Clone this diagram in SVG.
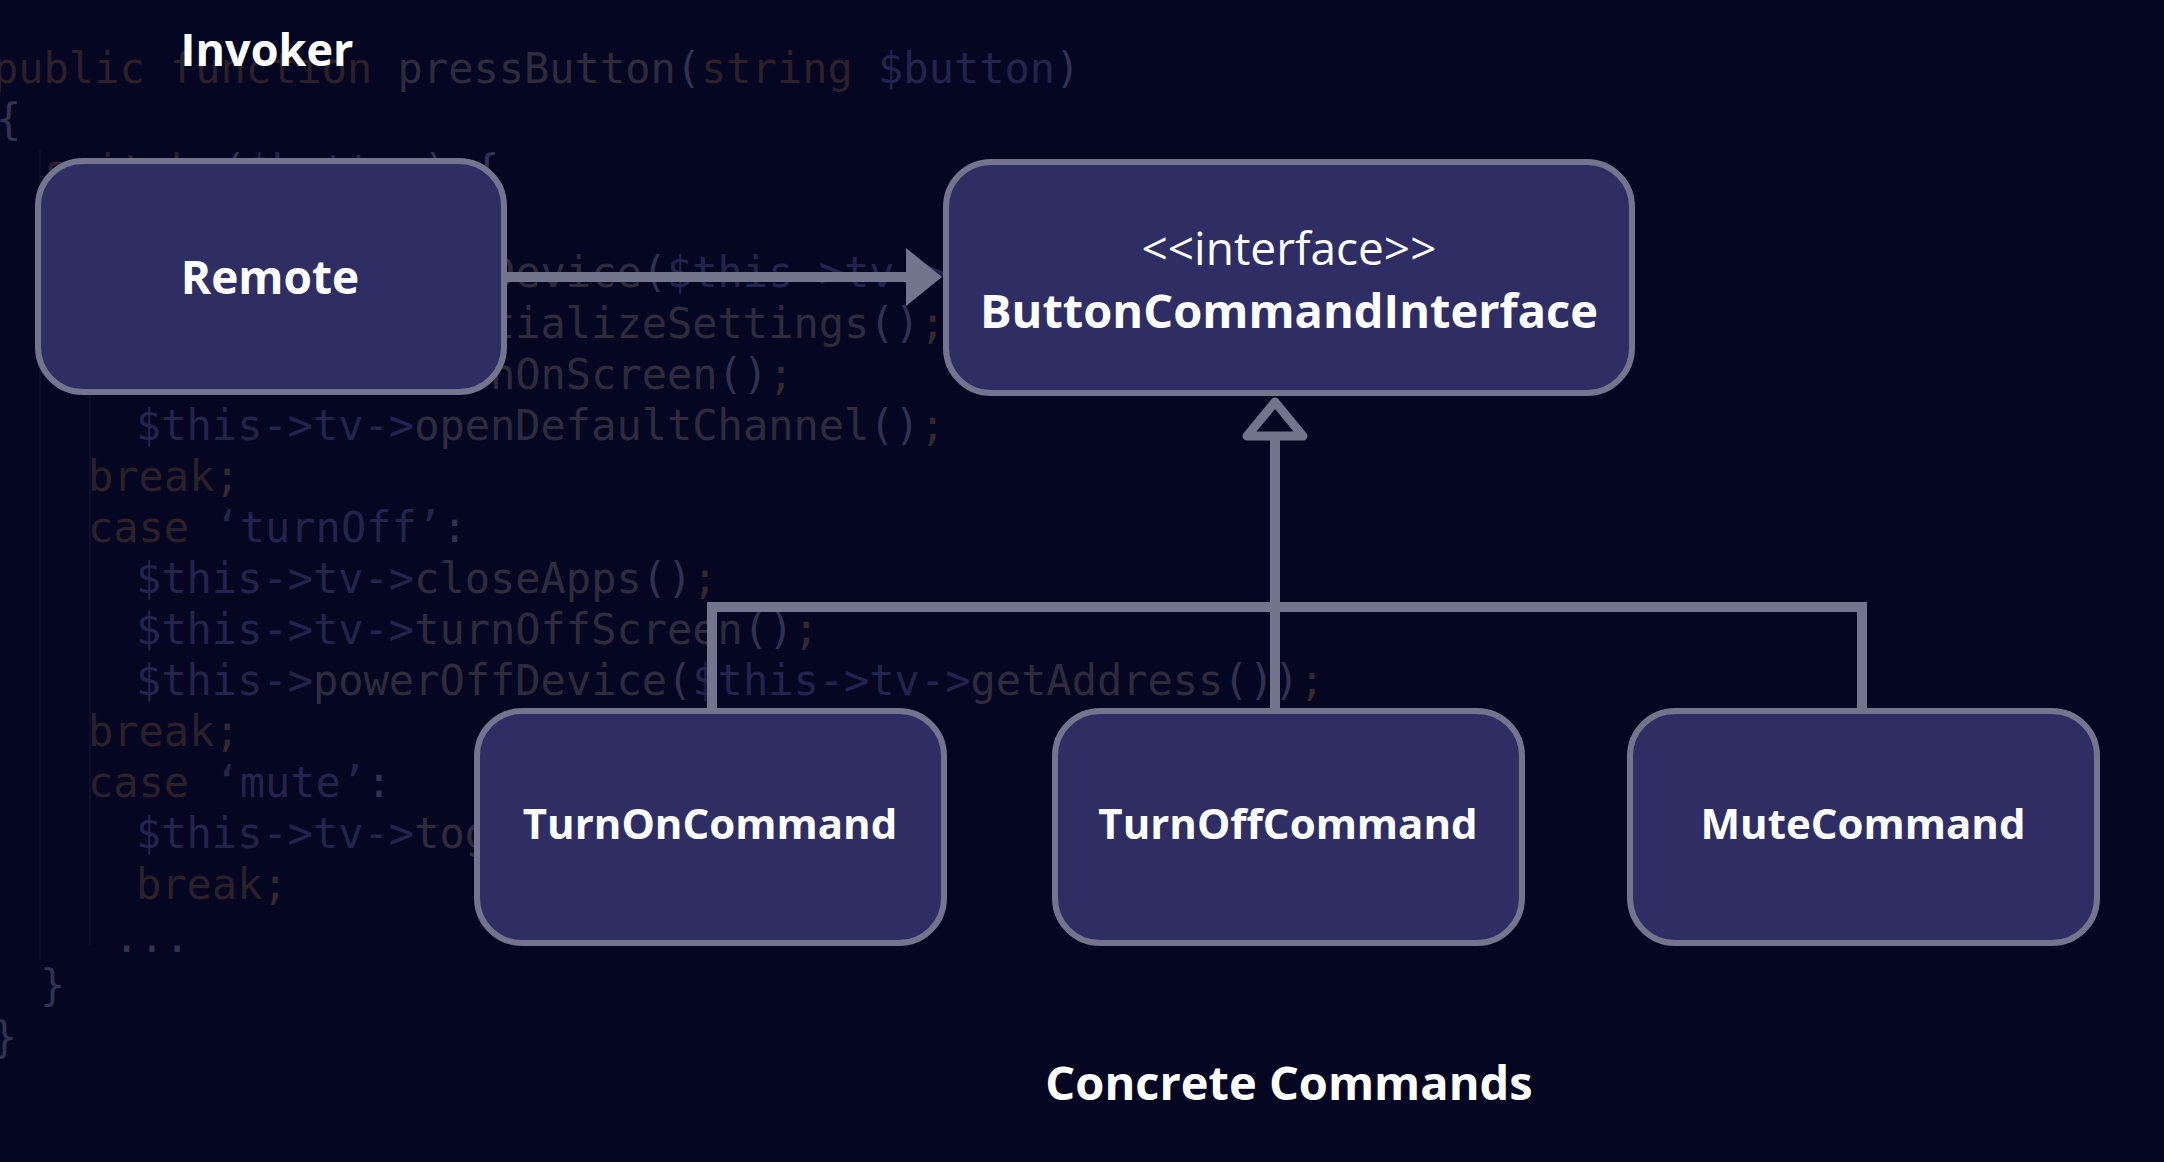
<svg xmlns="http://www.w3.org/2000/svg" width="2164" height="1162" viewBox="0 0 2164 1162">
<style>
.code{font-family:"DejaVu Sans Mono","Liberation Mono",monospace;font-size:42px}
.kw{fill:#2c2029}
.fn{fill:#2e2c3c}
.vr{fill:#23244b}
.op{fill:#30324f}
.pu{fill:#36292b}
.guide{stroke:#0d0e2e;stroke-width:2}
.node{fill:#2e2e64;stroke:#73758e;stroke-width:6}
.lbl{font-family:"Open Sans","Noto Sans","Liberation Sans",sans-serif;font-weight:700;fill:#ffffff;text-anchor:middle}
.reg{font-weight:400}
.conn{fill:none;stroke:#73758e;stroke-width:10}
</style>
<defs>
<marker id="arrow-filled" markerUnits="userSpaceOnUse" viewBox="0 0 36 58" refX="6" refY="29" markerWidth="36" markerHeight="58" orient="auto">
<path d="M0,0 L36,29 L0,58 Z" fill="#73758e"/>
</marker>
</defs>
<rect x="0" y="0" width="2164" height="1162" fill="#050622"/>
<g id="background-code" class="code">
<line class="guide" x1="40" y1="150" x2="40" y2="960"/>
<line class="guide" x1="90" y1="200" x2="90" y2="945"/>
<text x="-7" y="83"><tspan class="kw">public function</tspan> <tspan class="fn">pressButton</tspan><tspan class="op">(</tspan><tspan class="kw">string</tspan> <tspan class="vr">$button</tspan><tspan class="op">)</tspan></text>
<text x="-4" y="134" class="op">{</text>
<text x="44" y="185"><tspan class="kw">switch</tspan> <tspan class="op">(</tspan><tspan class="vr">$button</tspan><tspan class="op">)</tspan> <tspan class="op">{</tspan></text>
<text x="490" y="287"><tspan class="fn">Device</tspan><tspan class="op">(</tspan><tspan class="vr">$this-&gt;tv-&gt;</tspan></text>
<text x="490" y="338"><tspan class="fn">tializeSettings</tspan><tspan class="op">()</tspan><tspan class="pu">;</tspan></text>
<text x="490" y="389"><tspan class="fn">nOnScreen</tspan><tspan class="op">()</tspan><tspan class="pu">;</tspan></text>
<text x="136" y="440"><tspan class="vr">$this-&gt;tv-&gt;</tspan><tspan class="fn">openDefaultChannel</tspan><tspan class="op">()</tspan><tspan class="pu">;</tspan></text>
<text x="88" y="491"><tspan class="kw">break</tspan><tspan class="pu">;</tspan></text>
<text x="88" y="542"><tspan class="kw">case</tspan> <tspan class="vr">‘turnOff’</tspan><tspan class="op">:</tspan></text>
<text x="136" y="593"><tspan class="vr">$this-&gt;tv-&gt;</tspan><tspan class="fn">closeApps</tspan><tspan class="op">()</tspan><tspan class="pu">;</tspan></text>
<text x="136" y="644"><tspan class="vr">$this-&gt;tv-&gt;</tspan><tspan class="fn">turnOffScreen</tspan><tspan class="op">()</tspan><tspan class="pu">;</tspan></text>
<text x="136" y="695"><tspan class="vr">$this-&gt;</tspan><tspan class="fn">powerOffDevice</tspan><tspan class="op">(</tspan><tspan class="vr">$this-&gt;tv-&gt;</tspan><tspan class="fn">getAddress</tspan><tspan class="op">())</tspan><tspan class="pu">;</tspan></text>
<text x="88" y="746"><tspan class="kw">break</tspan><tspan class="pu">;</tspan></text>
<text x="88" y="797"><tspan class="kw">case</tspan> <tspan class="vr">‘mute’</tspan><tspan class="op">:</tspan></text>
<text x="136" y="848"><tspan class="vr">$this-&gt;tv-&gt;</tspan><tspan class="fn">tog</tspan></text>
<text x="136" y="899"><tspan class="kw">break</tspan><tspan class="pu">;</tspan></text>
<text x="114" y="952" class="op">...</text>
<text x="40" y="1000" class="op">}</text>
<text x="-8" y="1052" class="op">}</text>
</g>
<g id="connectors">
<path class="conn" d="M507,277 H912" stroke-width="11" marker-end="url(#arrow-filled)"/>
<path class="conn" d="M1275,712 V437"/>
<path class="conn" d="M712,712 V607 H1862 V712" stroke-linejoin="miter"/>
<polygon points="1275,402 1247,436 1303,436" fill="#050622" stroke="#73758e" stroke-width="9" stroke-linejoin="round"/>
</g>
<g id="invoker-label"><text class="lbl" x="267" y="66" font-size="45">Invoker</text></g>
<g id="remote">
<rect class="node" x="38" y="161" width="466" height="231" rx="45"/>
<text class="lbl" x="270" y="294" font-size="46">Remote</text>
</g>
<g id="button-command-interface">
<rect class="node" x="946" y="162" width="686" height="231" rx="45"/>
<text class="lbl reg" x="1289" y="265" font-size="46">&lt;&lt;interface&gt;&gt;</text>
<text class="lbl" x="1289" y="328" font-size="47">ButtonCommandInterface</text>
</g>
<g id="turn-on-command">
<rect class="node" x="477" y="711" width="467" height="232" rx="45"/>
<text class="lbl" x="710" y="839" font-size="42">TurnOnCommand</text>
</g>
<g id="turn-off-command">
<rect class="node" x="1055" y="711" width="467" height="232" rx="45"/>
<text class="lbl" x="1288" y="839" font-size="42">TurnOffCommand</text>
</g>
<g id="mute-command">
<rect class="node" x="1630" y="711" width="467" height="232" rx="45"/>
<text class="lbl" x="1863" y="839" font-size="42">MuteCommand</text>
</g>
<g id="concrete-commands-label"><text class="lbl" x="1289" y="1100" font-size="47">Concrete Commands</text></g>
</svg>
